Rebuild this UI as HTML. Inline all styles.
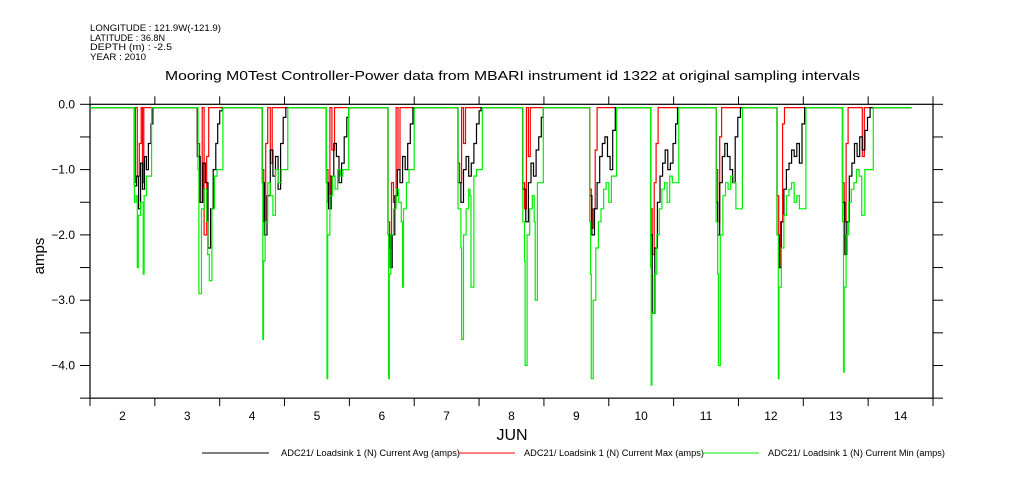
<!DOCTYPE html>
<html><head><meta charset="utf-8"><style>
html,body{margin:0;padding:0;background:#fff;}
svg{display:block;font-family:"Liberation Sans",sans-serif;}
</style></head><body>
<svg id="chart" width="1009" height="504" viewBox="0 0 1009 504" xmlns="http://www.w3.org/2000/svg">
<g font-size="9" fill="#000">
<text x="90" y="31" textLength="131" lengthAdjust="spacingAndGlyphs">LONGITUDE : 121.9W(-121.9)</text>
<text x="90" y="41" textLength="75" lengthAdjust="spacingAndGlyphs">LATITUDE : 36.8N</text>
<text x="90" y="50" textLength="82" lengthAdjust="spacingAndGlyphs">DEPTH (m) : -2.5</text>
<text x="90" y="60" textLength="56" lengthAdjust="spacingAndGlyphs">YEAR : 2010</text>
</g>
<text x="165" y="80" textLength="695" lengthAdjust="spacingAndGlyphs" font-size="13">Mooring M0Test Controller-Power data from MBARI instrument id 1322 at original sampling intervals</text>
<text transform="translate(44,256) rotate(-90)" text-anchor="middle" font-size="15">amps</text>
<text x="512" y="440" text-anchor="middle" font-size="16">JUN</text>
<g id="axes"></g>
<g id="series"></g>
<g font-size="9">
<line x1="202" y1="453" x2="269" y2="453" stroke="#000"/>
<text x="281" y="456" textLength="179" lengthAdjust="spacingAndGlyphs">ADC21/ Loadsink 1 (N) Current Avg (amps)</text>
<line x1="458" y1="453" x2="515" y2="453" stroke="#f00"/>
<text x="524" y="456" textLength="180" lengthAdjust="spacingAndGlyphs">ADC21/ Loadsink 1 (N) Current Max (amps)</text>
<line x1="702" y1="453" x2="759" y2="453" stroke="#0e0"/>
<text x="768" y="456" textLength="177" lengthAdjust="spacingAndGlyphs">ADC21/ Loadsink 1 (N) Current Min (amps)</text>
</g>
</svg>
<script>
const yTicks=[0,-0.5,-1,-1.5,-2,-2.5,-3,-3.5,-4,-4.5];
const yLabels=["0.0","-1.0","-2.0","-3.0","-4.0"];
const yLabelVals=[0,-1,-2,-3,-4];
const dayTicks=[2,3,4,5,6,7,8,9,10,11,12,13,14,15];
const dayLabels=["2","3","4","5","6","7","8","9","10","11","12","13","14"];
const avgT=[2.0,2.68,2.685,2.72,2.75,2.78,2.81,2.84,2.87,2.90,2.94,2.97,
3.65,3.655,3.70,3.74,3.78,3.82,3.86,3.90,3.94,3.97,4.00,4.04,
4.65,4.655,4.69,4.73,4.78,4.82,4.86,4.90,4.94,4.98,5.02,
5.64,5.645,5.68,5.72,5.76,5.80,5.84,5.88,5.92,5.96,5.99,
6.59,6.595,6.63,6.66,6.70,6.74,6.78,6.82,6.86,6.90,6.94,6.98,
7.67,7.675,7.72,7.76,7.80,7.84,7.88,7.92,7.96,8.00,8.03,
8.67,8.675,8.72,8.76,8.80,8.84,8.88,8.92,8.96,8.99,
9.70,9.705,9.74,9.78,9.82,9.86,9.90,9.94,9.98,10.02,10.06,10.10,
10.64,10.645,10.67,10.71,10.75,10.79,10.83,10.87,10.91,10.95,10.99,11.03,11.06,
11.65,11.655,11.68,11.71,11.75,11.79,11.83,11.87,11.91,11.95,11.99,12.03,
12.59,12.595,12.63,12.66,12.70,12.74,12.78,12.82,12.86,12.90,12.94,12.98,13.02,
13.60,13.605,13.64,13.67,13.71,13.75,13.79,13.83,13.87,13.91,13.95,13.99,14.03,14.67];
const avgV=[-0.05,-0.05,-1.25,-1.1,-1.6,-0.9,-1.3,-0.8,-1.0,-0.6,-0.3,-0.05,
-0.05,-0.8,-1.5,-0.9,-1.2,-2.2,-1.6,-1.0,-0.6,-0.3,-0.1,-0.05,
-0.05,-1.2,-2.0,-1.4,-0.7,-1.1,-0.8,-1.3,-0.6,-0.2,-0.05,
-0.05,-1.2,-1.6,-1.1,-0.6,-0.8,-1.2,-0.9,-0.5,-0.2,-0.05,
-0.05,-2.0,-2.5,-2.0,-1.4,-1.0,-1.2,-0.8,-1.0,-0.6,-0.3,-0.05,
-0.05,-1.2,-1.5,-1.0,-0.8,-1.1,-0.9,-0.6,-0.3,-0.1,-0.05,
-0.05,-1.3,-1.8,-1.2,-0.9,-1.1,-0.7,-0.5,-0.2,-0.05,
-0.05,-1.4,-2.0,-1.6,-1.2,-0.8,-0.6,-0.5,-0.8,-1.0,-0.4,-0.05,
-0.05,-2.0,-3.2,-2.2,-1.5,-1.1,-0.9,-0.7,-1.0,-0.9,-0.6,-0.3,-0.05,
-0.05,-1.5,-2.0,-1.2,-0.8,-0.6,-0.8,-1.0,-1.2,-0.5,-0.2,-0.05,
-0.05,-2.0,-2.5,-1.8,-1.3,-1.0,-0.9,-0.7,-0.8,-0.6,-0.9,-0.3,-0.05,
-0.05,-1.5,-2.3,-1.8,-1.1,-0.9,-0.6,-0.8,-0.5,-0.7,-0.4,-0.2,-0.05,-0.05];
const maxT=[2.0,2.68,2.685,2.70,2.73,2.76,2.79,2.81,2.83,
3.65,3.655,3.69,3.73,3.76,3.80,3.83,3.86,
4.65,4.655,4.68,4.71,4.74,4.78,4.81,
5.64,5.645,5.67,5.70,5.73,5.77,5.80,
6.59,6.595,6.62,6.65,6.68,6.72,6.75,6.78,
7.67,7.675,7.70,7.73,7.76,7.79,
8.67,8.675,8.70,8.73,8.76,8.79,
9.70,9.705,9.73,9.76,9.79,9.82,9.85,
10.64,10.645,10.67,10.70,10.73,10.76,10.79,
11.65,11.655,11.68,11.71,11.74,11.77,
12.59,12.595,12.62,12.65,12.68,12.71,12.74,
13.60,13.605,13.63,13.66,13.69,13.72,13.91,13.94,14.67];
const maxV=[-0.05,-0.05,-1.2,-0.05,-1.1,-0.6,-0.05,-1.2,-0.05,
-0.05,-0.6,-1.5,-0.05,-2.0,-0.8,-0.05,-0.05,
-0.05,-1.0,-1.8,-0.6,-0.05,-0.9,-0.05,
-0.05,-1.0,-1.5,-0.05,-0.7,-0.05,-0.05,
-0.05,-1.8,-2.2,-1.2,-1.5,-0.05,-1.0,-0.05,
-0.05,-0.9,-1.2,-0.05,-0.6,-0.05,
-0.05,-1.2,-1.6,-0.05,-0.8,-0.05,
-0.05,-1.3,-1.9,-1.6,-0.7,-0.05,-0.05,
-0.05,-1.6,-2.3,-1.2,-0.6,-0.05,-0.05,
-0.05,-1.0,-1.8,-0.5,-0.05,-0.05,
-0.05,-1.4,-2.5,-1.8,-0.3,-0.05,-0.05,
-0.05,-1.2,-1.8,-0.6,-0.05,-0.05,-0.8,-0.05,-0.05];
const minT=[2.0,2.68,2.685,2.71,2.73,2.745,2.78,2.82,2.835,2.87,2.95,
3.65,3.655,3.665,3.68,3.72,3.76,3.80,3.815,3.84,3.88,3.92,3.96,4.05,
4.65,4.655,4.665,4.675,4.70,4.74,4.78,4.82,4.86,4.90,4.95,5.05,
5.64,5.645,5.655,5.665,5.70,5.74,5.78,5.82,5.86,5.90,5.99,
6.59,6.595,6.605,6.615,6.64,6.68,6.72,6.76,6.80,6.82,6.835,6.88,6.92,7.0,
7.67,7.675,7.72,7.73,7.76,7.80,7.84,7.86,7.875,7.92,7.96,8.05,
8.67,8.675,8.70,8.71,8.74,8.78,8.82,8.85,8.865,8.90,8.99,
9.70,9.705,9.72,9.73,9.76,9.80,9.84,9.88,9.92,9.96,10.00,10.04,10.12,
10.64,10.645,10.655,10.665,10.70,10.74,10.78,10.82,10.86,10.90,10.94,10.98,11.08,
11.65,11.655,11.68,11.69,11.72,11.76,11.80,11.84,11.88,11.92,11.96,12.06,
12.59,12.595,12.615,12.625,12.66,12.70,12.74,12.78,12.82,12.86,12.90,12.94,13.04,
13.60,13.605,13.62,13.63,13.66,13.70,13.74,13.78,13.82,13.86,13.90,13.95,14.08,14.67];
const minV=[-0.05,-0.05,-1.5,-1.4,-2.5,-1.7,-1.5,-2.6,-1.4,-1.1,-0.05,-0.05,
-0.05,-1.0,-2.9,-1.6,-1.3,-1.8,-2.3,-2.7,-1.6,-1.1,-1.0,-0.05,
-0.05,-1.2,-3.6,-2.4,-1.8,-1.2,-1.4,-1.7,-1.0,-1.2,-1.0,-0.05,
-0.05,-1.2,-4.2,-2.0,-1.4,-1.1,-1.3,-1.0,-1.1,-1.0,-0.05,
-0.05,-2.0,-4.2,-2.6,-2.0,-1.6,-1.3,-1.5,-1.8,-2.8,-1.6,-1.2,-1.0,-0.05,
-0.05,-1.6,-2.2,-3.6,-2.0,-1.6,-1.3,-1.4,-2.8,-1.1,-1.0,-0.05,
-0.05,-1.8,-2.4,-4.0,-2.0,-1.6,-1.4,-1.8,-3.0,-1.2,-0.05,
-0.05,-1.8,-2.6,-4.2,-3.0,-2.2,-1.8,-1.6,-1.3,-1.2,-1.5,-1.1,-0.05,
-0.05,-2.5,-4.3,-3.2,-2.6,-2.0,-1.6,-1.3,-1.2,-1.5,-1.1,-1.2,-0.05,
-0.05,-1.8,-2.6,-4.0,-2.0,-1.4,-1.2,-1.3,-1.1,-1.2,-1.6,-0.05,
-0.05,-2.0,-4.2,-2.8,-2.2,-1.7,-1.4,-1.3,-1.2,-1.5,-1.4,-1.6,-0.05,
-0.05,-1.8,-4.1,-2.8,-2.0,-1.5,-1.3,-1.2,-1.0,-1.1,-1.7,-1.0,-0.05,-0.05];
const NS="http://www.w3.org/2000/svg";
const X0=90,X1=933,Y0=104.3,PY=65.3;
function xs(d){return X0+(d-2)*(X1-X0)/13;}
function ys(v){return Y0-v*PY;}
const axes=document.getElementById('axes');
function mk(tag,at,parent){const e=document.createElementNS(NS,tag);for(const k in at)e.setAttribute(k,at[k]);parent.appendChild(e);return e;}
const frame=mk('rect',{x:X0,y:Y0,width:X1-X0,height:ys(-4.5)-Y0,fill:'none',stroke:'#000','stroke-width':1.2},axes);


yTicks.forEach(v=>{
 const l=mk('line',{x1:X0-10,x2:X0,y1:ys(v),y2:ys(v),stroke:'#000'},axes);
 
 
 const r=mk('line',{x1:X1,x2:X1+10,y1:ys(v),y2:ys(v),stroke:'#000'},axes);
 
 
});
yLabelVals.forEach((v,i)=>{
 const t=mk('text',{x:75,y:ys(v)+4,'text-anchor':'end','font-size':12},axes);
 t.textContent=yLabels[i].replace('-','\u2212');
 
 
});
dayTicks.forEach(d=>{
 const a=mk('line',{x1:xs(d),x2:xs(d),y1:Y0-8,y2:Y0,stroke:'#000'},axes);
 
 
 const b=mk('line',{x1:xs(d),x2:xs(d),y1:ys(-4.5),y2:ys(-4.5)+8,stroke:'#000'},axes);
 
 
});
dayLabels.forEach((s,i)=>{
 const t=mk('text',{x:xs(dayTicks[i]+0.5),y:420,'text-anchor':'middle','font-size':12},axes);
 t.textContent=s;
 
 
});
const series=document.getElementById('series');
function step(T,V,color,name){
 let d='M'+xs(T[0]).toFixed(1)+','+ys(V[0]).toFixed(1);
 for(let i=1;i<T.length;i++){d+='H'+xs(T[i]).toFixed(1)+'V'+ys(V[i]).toFixed(1);}
 const p=mk('path',{d:d,fill:'none',stroke:color,'stroke-width':1.2},series);
 
 
}
step(maxT,maxV,'#f00','series-max-line');
step(avgT,avgV,'#000','series-avg-line');
step(minT,minV,'#0e0','series-min-line');
</script>
</body></html>
